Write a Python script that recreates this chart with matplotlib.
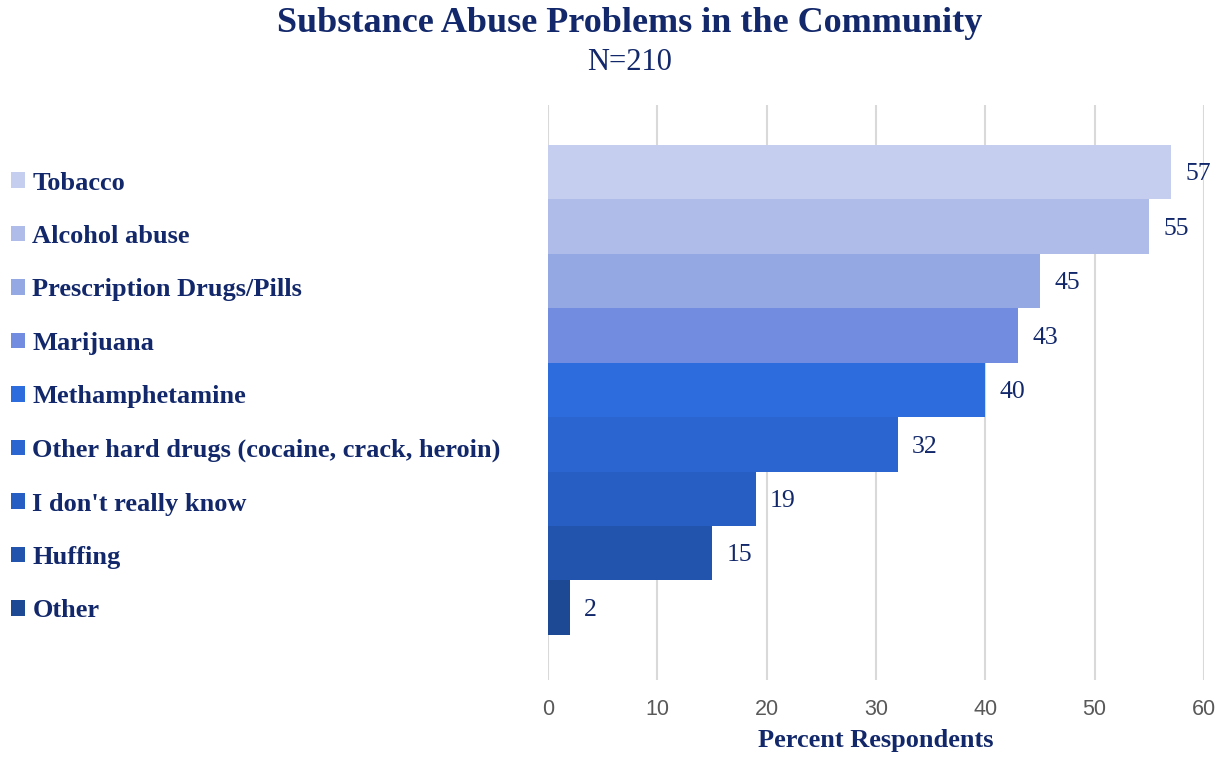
import matplotlib
matplotlib.use("Agg")
import matplotlib.pyplot as plt
from matplotlib.patches import Patch

categories = [
    "Tobacco",
    "Alcohol abuse",
    "Prescription Drugs/Pills",
    "Marijuana",
    "Methamphetamine",
    "Other hard drugs (cocaine, crack, heroin)",
    "I don't really know",
    "Huffing",
    "Other",
]
values = [57, 55, 45, 43, 40, 32, 19, 15, 2]
colors = ["#C5CEEF", "#AFBCEA", "#94A9E4", "#728DE0", "#2D6CDD",
          "#2A65D0", "#275EC3", "#2253AD", "#1D4894"]
xticks = [0, 10, 20, 30, 40, 50, 60]

navy = "#12286A"
serif = ["Liberation Serif", "DejaVu Serif"]
sans = ["Liberation Sans", "DejaVu Sans"]

fig = plt.figure(figsize=(12.27, 7.57), dpi=100)
ax = fig.add_axes([548 / 1227, 1 - 680 / 757, (1204 - 548) / 1227, (680 - 105) / 757])

n = len(values)
ypos = [n - 1 - i for i in range(n)]
bars = ax.barh(ypos, values, height=1.0, color=colors, zorder=2)

for y, v in zip(ypos, values):
    ax.text(v + 1.3, y - 0.04, f"{v}", va="center", ha="left", fontsize=18.5,
            family=serif, color=navy, zorder=3)

ax.set_xlim(0, 60)
ax.set_ylim(-1.33, n - 0.5 + 0.735)
ax.set_xticks(xticks)
ax.set_yticks([])
ax.xaxis.grid(True, color="#D9D9D9", linewidth=1.5, zorder=0)
ax.tick_params(axis="x", length=0, pad=14, labelsize=15.5, labelcolor="#595959")
for lab in ax.get_xticklabels():
    lab.set_family(sans)
for s in ax.spines.values():
    s.set_visible(False)

ax.set_xlabel("Percent Respondents", fontsize=19, fontweight="bold",
              family=serif, color=navy, labelpad=6)

handles = [Patch(facecolor=c, edgecolor="none") for c in colors]
leg = fig.legend(handles, categories, loc="upper left",
                 bbox_to_anchor=(0.0, 1 - 161 / 757), frameon=False,
                 handlelength=0.53, handleheight=0.53, handletextpad=0.3,
                 labelspacing=1.153, borderaxespad=0.0,
                 prop={"family": serif, "weight": "bold", "size": 19})
for t in leg.get_texts():
    t.set_color(navy)

fig.text(630 / 1227, 1 - 24 / 757, "Substance Abuse Problems in the Community",
         ha="center", va="center", fontsize=26, fontweight="bold",
         family=serif, color=navy)
fig.text(630 / 1227, 1 - 62 / 757, "N=210", ha="center", va="center",
         fontsize=22, family=serif, color=navy)

fig.savefig("out.png", dpi=100)
